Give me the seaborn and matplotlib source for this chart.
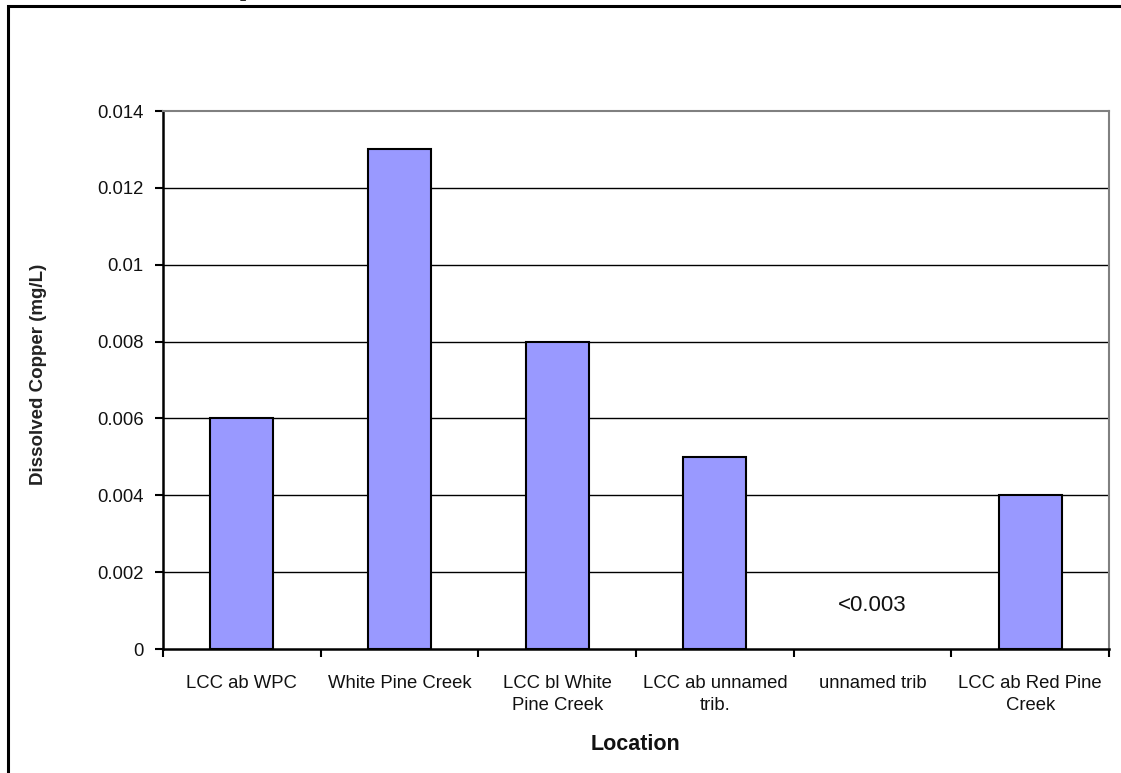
import numpy as np
import pandas as pd
import matplotlib
matplotlib.use("Agg")
import matplotlib.pyplot as plt
from matplotlib.patches import Rectangle
from matplotlib.ticker import FixedLocator, NullFormatter
import seaborn as sns

# Dissolved copper by sampling location
locations = [
    "LCC ab WPC",
    "White Pine Creek",
    "LCC bl White\nPine Creek",
    "LCC ab unnamed\ntrib.",
    "unnamed trib",
    "LCC ab Red Pine\nCreek",
]
copper_mg_l = [0.006, 0.013, 0.008, 0.005, np.nan, 0.004]
below_detection = {"unnamed trib": "<0.003"}
y_ticks = [0, 0.002, 0.004, 0.006, 0.008, 0.01, 0.012, 0.014]

df = pd.DataFrame({"Location": locations, "Copper": copper_mg_l})

sns.set_theme(style="white")
plt.rcParams["font.family"] = ["Liberation Sans", "DejaVu Sans"]

W, H = 1121, 773
fig = plt.figure(figsize=(W / 100, H / 100), dpi=100)
ax = fig.add_axes([163 / W, 1 - 649 / H, (1109 - 163) / W, (649 - 111) / H])

sns.barplot(data=df, x="Location", y="Copper", ax=ax, color="#9999FF",
            saturation=1, width=0.4, edgecolor="black", linewidth=1.5,
            errorbar=None)

ax.set_xlim(-0.5, len(locations) - 0.5)
ax.set_ylim(0, 0.014)

# horizontal gridlines
ax.set_yticks(y_ticks)
ax.set_yticklabels([f"{v:g}" for v in y_ticks])
for v in y_ticks[1:-1]:
    ax.axhline(v, color="black", linewidth=1, zorder=0.5)

# category labels between boundary ticks
ax.xaxis.set_major_locator(FixedLocator(np.arange(-0.5, len(locations), 1.0)))
ax.xaxis.set_major_formatter(NullFormatter())
ax.xaxis.set_minor_locator(FixedLocator(np.arange(len(locations))))
ax.set_xticklabels(locations, minor=True)
ax.tick_params(axis="x", which="minor", length=0, pad=19, labelsize=13.3,
               labelcolor="#111111")
ax.tick_params(axis="x", which="major", length=6, width=1.5, direction="out",
               bottom=True, color="black")
ax.tick_params(axis="y", length=6, width=1.5, direction="out", left=True,
               labelsize=13.3, color="black", labelcolor="#111111", pad=8)

for lbl in ax.get_xticklabels(minor=True):
    lbl.set_linespacing(1.38)

for side in ("left", "bottom"):
    ax.spines[side].set_color("black")
    ax.spines[side].set_linewidth(1.8)
for side in ("top", "right"):
    ax.spines[side].set_visible(True)
    ax.spines[side].set_color("#808080")
    ax.spines[side].set_linewidth(1.5)

for i, loc in enumerate(locations):
    if loc in below_detection:
        ax.text(i, 0.00113, below_detection[loc], ha="center", va="center",
                fontsize=16, color="#111111")

ax.set_xlabel("Location", fontsize=15.5, fontweight="bold", labelpad=14,
              color="#111111")
ax.set_ylabel("Dissolved Copper (mg/L)", fontsize=13.5, fontweight="bold",
              color="#222222")
ax.yaxis.set_label_coords(-0.123, 0.51)

# outer frame
fig.patches.append(Rectangle((8 / W, -0.2), 1.5, 1.2 - 6 / H,
                             transform=fig.transFigure, fill=False,
                             edgecolor="black", linewidth=2.2))
fig.text(246 / W, 1 + 4 / H, "p", fontsize=16, fontweight="bold",
         family=["Liberation Serif"], ha="center", va="baseline")

fig.savefig("out.png", dpi=100, facecolor="white")
